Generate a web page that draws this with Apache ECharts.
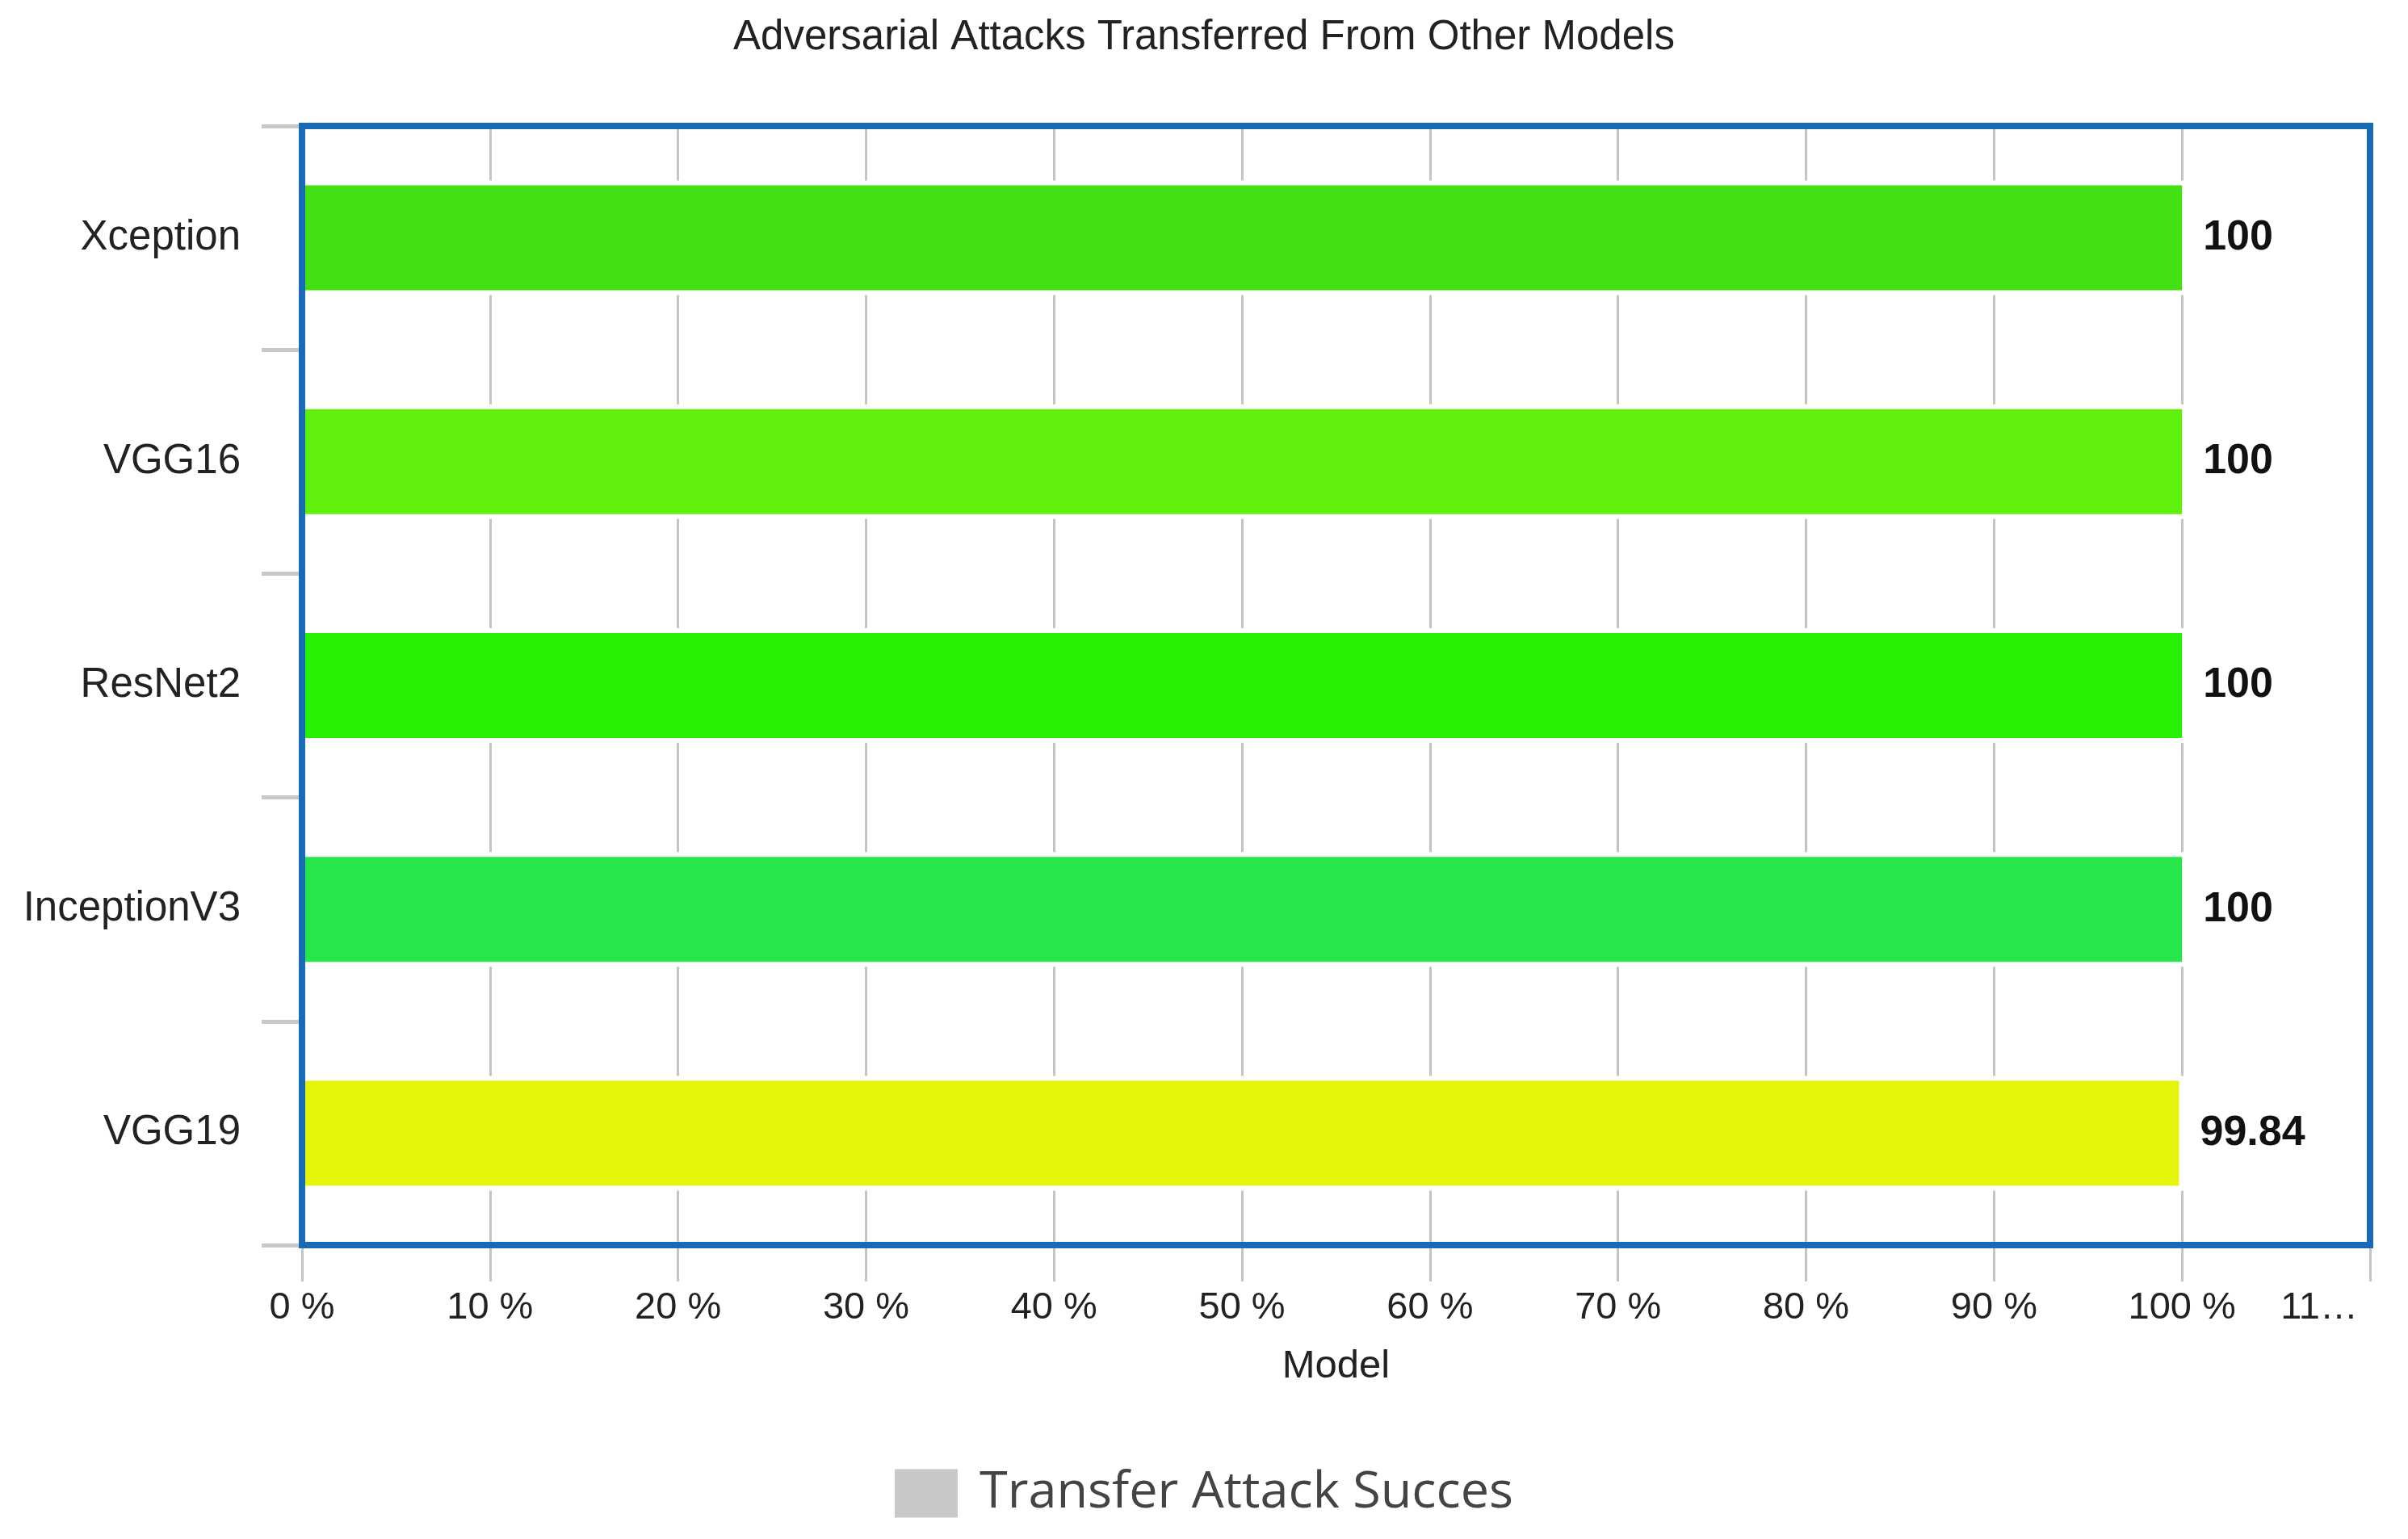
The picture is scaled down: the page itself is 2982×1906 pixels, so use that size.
<!DOCTYPE html>
<html>
<head>
<meta charset="utf-8">
<script src="https://cdn.jsdelivr.net/npm/echarts@6/dist/echarts.min.js"></script>
<style>
  html, body { margin: 0; padding: 0; background: #fff; }
  #chart { width: 2982px; height: 1906px; }
</style>
</head>
<body>
<div id="chart"></div>
<script>
// data, top to bottom
const models = ['Xception', 'VGG16', 'ResNet2', 'InceptionV3', 'VGG19'];
const successRate = [100, 100, 100, 100, 99.84];
const barColors = ['#43E014', '#5FF10C', '#28F004', '#26E64B', '#E4F50A'];
const xTicks = [0, 10, 20, 30, 40, 50, 60, 70, 80, 90, 100, 110];

const labelFont = '"Liberation Sans", Arial, sans-serif';

let option = {
    title: {
        text: 'Adversarial Attacks Transferred From Other Models',
        left: 'center',
        top: 16,
        textStyle: {
            fontFamily: labelFont,
            fontSize: 51,
            fontWeight: 'normal',
            color: '#222'
        }
    },
    legend: {
        top: 1813,
        left: 'center',
        itemWidth: 78,
        itemHeight: 60,
        icon: 'rect',
        textStyle: {
            fontFamily: '"Open Sans", sans-serif',
            fontSize: 63,
            color: '#444',
            padding: [0, 0, 0, 22]
        },
        data: ['Transfer Attack Succes']
    },
    grid: {
        left: 374,
        right: 47,
        top: 156,
        bottom: 364,
        show: true,
        z: 10,
        backgroundColor: 'transparent',
        borderColor: '#176BB5',
        borderWidth: 8
    },
    xAxis: {
        type: 'value',
        min: xTicks[0],
        max: xTicks[xTicks.length - 1],
        interval: 10,
        name: 'Model',
        nameLocation: 'middle',
        nameGap: 126,
        nameTextStyle: {
            fontFamily: labelFont,
            fontSize: 49,
            color: '#222'
        },
        axisLine: { show: false },
        axisTick: {
            show: true,
            length: 45,
            lineStyle: { color: '#c4c4c4', width: 3 }
        },
        axisLabel: {
            margin: 55,
            fontFamily: labelFont,
            fontSize: 47,
            color: '#222',
            alignMaxLabel: 'right',
            formatter: v => v === 110 ? '{cut|11…}' : v + ' %',
            rich: {
                cut: {
                    fontFamily: labelFont,
                    fontSize: 47,
                    color: '#222',
                    padding: [0, 15, 0, 0]
                }
            }
        },
        splitLine: {
            show: true,
            lineStyle: { color: '#c4c4c4', width: 3 }
        }
    },
    yAxis: {
        type: 'category',
        inverse: true,
        data: models,
        axisLine: {
            show: true,
            lineStyle: { color: '#b9d3ea', width: 4 }
        },
        axisTick: {
            show: true,
            length: 50,
            lineStyle: { color: '#c8c8c8', width: 5 }
        },
        axisLabel: {
            margin: 76,
            fontFamily: labelFont,
            fontSize: 51,
            color: '#222'
        },
        splitLine: { show: false }
    },
    series: [
        {
            // white halo behind each bar, keeps grid lines off the bars
            name: 'halo',
            type: 'custom',
            silent: true,
            encode: { x: 0, y: 1 },
            data: successRate.map((v, i) => [v, i]),
            renderItem: (params, api) => {
                const start = api.coord([0, api.value(1)]);
                const end = api.coord([api.value(0), api.value(1)]);
                return {
                    type: 'rect',
                    shape: { x: start[0], y: start[1] - 71, width: end[0] - start[0] + 6, height: 142 },
                    style: { fill: '#fff' }
                };
            }
        },
        {
            name: 'Transfer Attack Succes',
            type: 'bar',
            barWidth: 130,
            itemStyle: { color: '#c8c8c8' },
            data: successRate.map((v, i) => ({
                value: v,
                itemStyle: { color: barColors[i] }
            })),
            label: {
                show: true,
                position: 'right',
                distance: 26,
                fontFamily: labelFont,
                fontSize: 52,
                fontWeight: 'bold',
                color: '#111'
            }
        }
    ]
};

const chart = echarts.init(document.getElementById('chart'));
chart.setOption(option);
</script>
</body>
</html>
